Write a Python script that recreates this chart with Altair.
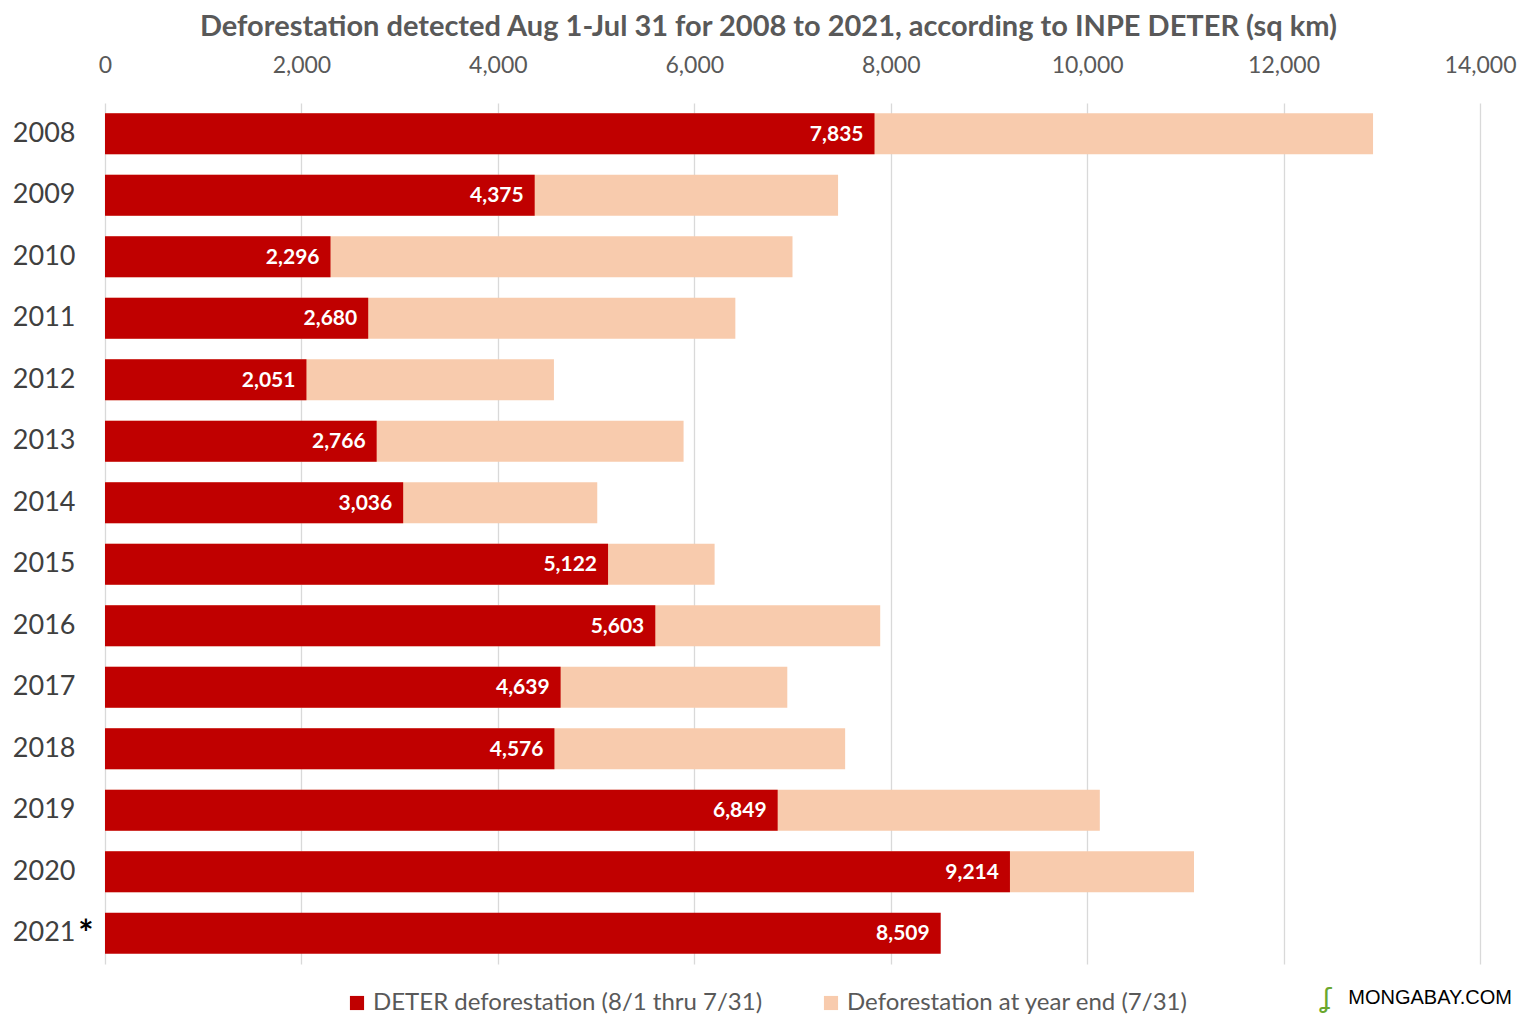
import altair as alt
import pandas as pd

years = ["2008", "2009", "2010", "2011", "2012", "2013", "2014",
         "2015", "2016", "2017", "2018", "2019", "2020", "2021"]
deter = [7835, 4375, 2296, 2680, 2051, 2766, 3036, 5122, 5603, 4639, 4576, 6849, 9214, 8509]
year_end = [12911, 7464, 7000, 6418, 4571, 5891, 5012, 6207, 7893, 6947, 7536, 10129, 11088, None]
x_ticks = [0, 2000, 4000, 6000, 8000, 10000, 12000, 14000]

S1 = "DETER deforestation (8/1 thru 7/31)"
S2 = "Deforestation at year end (7/31)"

rows = []
for y, d, e in zip(years, deter, year_end):
    rows.append({"year": y, "series": S1, "value": d})
    if e is not None:
        rows.append({"year": y, "series": S2, "value": e})
df = pd.DataFrame(rows)

FONT = "Lato"

color = alt.Color(
    "series:N",
    scale=alt.Scale(domain=[S1, S2], range=["#C00000", "#F8CBAD"]),
    legend=alt.Legend(
        title=None, orient="none", legendX=240, legendY=888, direction="horizontal",
        symbolType="square", symbolSize=200, labelFontSize=24, labelFont=FONT,
        labelColor="#595959", columnPadding=56, padding=0, labelLimit=500,
        symbolStrokeWidth=0, labelOffset=4,
    ),
)

yenc = alt.Y(
    "year:N", sort=years, title=None,
    scale=alt.Scale(paddingInner=0.33, paddingOuter=0.165),
    axis=alt.Axis(domain=False, ticks=False, labelFontSize=27, labelFont=FONT,
                  labelColor="#404040", labelPadding=30),
)
xenc = alt.X(
    "value:Q", title=None,
    scale=alt.Scale(domain=[0, 14000]),
    axis=alt.Axis(orient="top", values=x_ticks, format=",.0f",
                  domain=False, ticks=False, labelFontSize=23, labelFont=FONT,
                  labelColor="#595959", labelPadding=26, grid=True, labelFlush=False,
                  gridColor="#d9d9d9", gridWidth=1.3),
)

base = alt.Chart(df)

light = base.transform_filter(alt.datum.series == S2).mark_bar().encode(
    x=xenc, y=yenc, color=color)
red = base.transform_filter(alt.datum.series == S1).mark_bar().encode(
    x=xenc, y=yenc, color=color)
labels = base.transform_filter(alt.datum.series == S1).mark_text(
    align="right", baseline="middle", dx=-11, dy=1, color="white",
    fontSize=21, fontWeight="bold", font=FONT,
).encode(x=xenc, y=yenc, text=alt.Text("value:Q", format=","))

star_df = pd.DataFrame({"year": ["2021"], "mark": ["*"]})
star = alt.Chart(star_df).mark_text(
    align="center", baseline="middle", fontSize=36, fontWeight="bold",
    color="black", font=FONT, dy=2,
).encode(y=yenc, x=alt.value(-19), text="mark:N")

brand_df = pd.DataFrame({"t": ["MONGABAY.COM"]})
brand = alt.Chart(brand_df).mark_text(
    align="right", baseline="middle", fontSize=20, color="black",
    font="Liberation Sans",
).encode(x=alt.value(1407), y=alt.value(895), text="t:N")
logo_df = pd.DataFrame({"t": ["ʆ"]})
logo = alt.Chart(logo_df).mark_text(
    align="center", baseline="middle", fontSize=26, color="#6aa82e",
    font="DejaVu Sans",
).encode(x=alt.value(1222), y=alt.value(896), text="t:N")

chart = alt.layer(light, red, labels, star, brand, logo).properties(
    width=1375, height=861,
    padding={"left": 97, "top": 95, "right": 48, "bottom": 52},
    autosize=alt.AutoSizeParams(type="none"),
    title=alt.TitleParams(
        "Deforestation detected Aug 1-Jul 31 for 2008 to 2021, according to INPE DETER (sq km)",
        fontSize=29, font=FONT, fontWeight="bold", color="#595959",
        anchor="middle", dx=-24, offset=12,
    ),
).configure_view(stroke=None)

chart.save("out.html", embed_options={"renderer": "svg", "actions": False})
